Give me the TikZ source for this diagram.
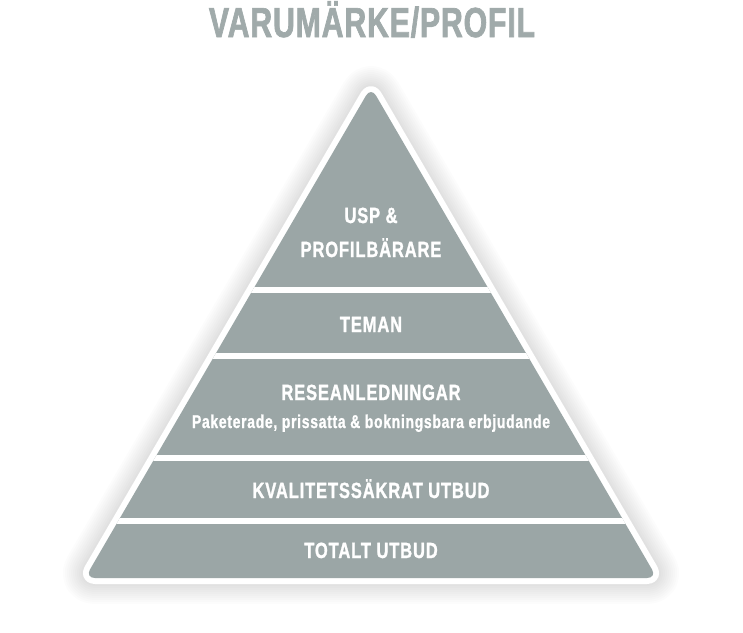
\documentclass[tikz,border=0pt]{standalone}
\usepackage{fontspec}
\newfontfamily\pyrfont{Liberation Sans}[FakeStretch=0.75,LetterSpace=4,FakeBold=1.2]
\newfontfamily\titlefont{Liberation Sans}[FakeStretch=0.72,LetterSpace=2,FakeBold=1.6]
\definecolor{pyrgray}{RGB}{155,166,166}
\definecolor{titlegray}{RGB}{160,170,170}

\begin{document}
\begin{tikzpicture}[x=1pt, y=-1pt,
  layertext/.style={text=white, anchor=base, inner sep=0pt,
    font=\pyrfont\bfseries\fontsize{22}{24}\selectfont},
  subtext/.style={text=white, anchor=base, inner sep=0pt,
    font=\pyrfont\bfseries\fontsize{18.5}{20}\selectfont},
  pyrshape/.style={line join=round, rounded corners=10pt}]

  \useasboundingbox (0,0) rectangle (743,632);

  % ────────────────────────────────────────────────────────────────────
  % Title
  % ────────────────────────────────────────────────────────────────────
  \node[anchor=base, inner sep=0pt, text=titlegray,
        font=\titlefont\bfseries\fontsize{42}{44}\selectfont]
    (title) at (372,37) {VARUMÄRKE/PROFIL};

  % ────────────────────────────────────────────────────────────────────
  % Pyramid: soft shadow, white rim, grey body
  % ────────────────────────────────────────────────────────────────────
  \coordinate (apex)  at (371,87);
  \coordinate (left)  at (85,578);
  \coordinate (right) at (657,578);

  % shadow (stacked translucent strokes)
  \foreach \w in {52,48,...,12}
    \draw[black, opacity=0.011, line width=\w pt, pyrshape, shift={(3,5)}]
      (apex) -- (right) -- (left) -- cycle;

  \filldraw[white, line width=12pt, pyrshape]
    (apex) -- (right) -- (left) -- cycle;
  \fill[pyrgray, pyrshape] (apex) -- (right) -- (left) -- cycle;

  % white gaps between the layers
  \begin{scope}
    \clip (apex) -- (right) -- (left) -- cycle;
    \foreach \gy in {290,356,458,521}
      \fill[white] (60,\gy-3.2) rectangle (690,\gy+3.2);
  \end{scope}

  % ── layer labels ──
  \node[layertext] (usp)    at (371,223) {USP \&};
  \node[layertext] (profil) at (371,257) {PROFILBÄRARE};
  \node[layertext] (teman)  at (371,332) {TEMAN};
  \node[layertext] (resa)   at (371,400) {RESEANLEDNINGAR};
  \node[subtext]   (paket)  at (371,428) {Paketerade, prissatta \& bokningsbara erbjudande};
  \node[layertext] (kval)   at (371,498) {KVALITETSSÄKRAT UTBUD};
  \node[layertext] (totalt) at (371,558) {TOTALT UTBUD};

\end{tikzpicture}
\end{document}
